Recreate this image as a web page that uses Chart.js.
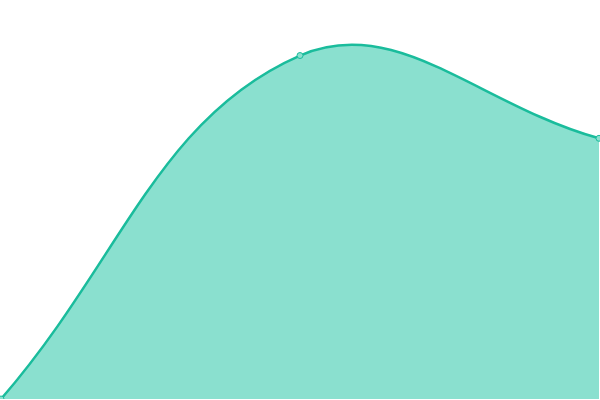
<!DOCTYPE html>
<html>
<head>
<meta charset="utf-8">
<script src="https://cdn.jsdelivr.net/npm/chart.js@4/dist/chart.umd.min.js"></script>
<style>
  html, body { margin: 0; padding: 0; background: #fff; overflow: hidden; }
  /* chart.js keeps a few px for the end points; push that margin outside the window */
  #wrap { position: absolute; left: -4px; top: -4px; width: 608px; height: 408px; }
</style>
</head>
<body>
<div id="wrap"><canvas id="areaChart"></canvas></div>
<script>
// chart data
var labels = ["A", "B", "C"];
var values = [0, 86.3, 65.5];

var ctx = document.getElementById("areaChart").getContext("2d");
var chartInstance = new Chart(ctx, {
    type: "line",
    data: {
        labels: labels,
        datasets: [{
            data: values,
            fill: "origin",
            backgroundColor: "rgba(138, 224, 207, 1)",
            borderColor: "#1abc9c",
            borderWidth: 2.5,
            tension: 0.4,
            pointRadius: 3,
            pointBorderWidth: 1,
            pointBackgroundColor: "#8ae0cf",
            pointBorderColor: "#1abc9c"
        }]
    },
    options: {
        responsive: true,
        maintainAspectRatio: false,
        animation: false,
        layout: { padding: 0 },
        plugins: {
            legend: { display: false },
            tooltip: { enabled: false }
        },
        scales: {
            x: { display: false, offset: false },
            y: { display: false, min: 0, max: 100 }
        }
    }
});
</script>
</body>
</html>
